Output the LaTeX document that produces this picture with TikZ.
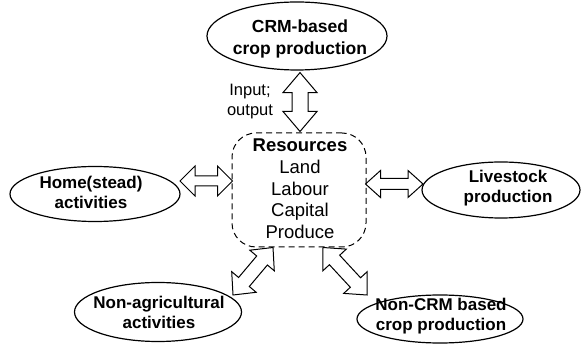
\documentclass[tikz,border=0pt]{standalone}
\usepackage{fontspec}
\setmainfont{Liberation Sans}
\usetikzlibrary{shapes.geometric,calc}

\tikzset{
  oval/.style={ellipse, draw, line width=1.2pt, inner sep=0pt},
  ovaltext/.style={font=\bfseries\fontsize{17}{20}\selectfont, align=center, inner sep=0pt},
  resbox/.style={draw, dash pattern=on 6pt off 4pt, rounded corners=24pt, line width=1pt,
                 minimum width=134pt, minimum height=114pt, inner sep=0pt},
  restext/.style={font=\fontsize{18.5}{21.7}\selectfont, align=center, inner sep=0pt},
  fat/.style={draw, line width=1pt, fill=white, line join=miter},
}

% Hollow double-headed block arrow between two named points:
% #1,#2 ends, #3 half shaft width, #4 half head width, #5 head length
\newcommand\dblfat[5]{%
  \coordinate (fa1) at ($(#1)!#5!(#2)$);
  \coordinate (fa2) at ($(#2)!#5!(#1)$);
  \path[fat] (#1) -- ($(fa1)!#4!90:(#2)$) -- ($(fa1)!#3!90:(#2)$)
    -- ($(fa2)!#3!-90:(#1)$) -- ($(fa2)!#4!-90:(#1)$) -- (#2)
    -- ($(fa2)!#4!90:(#1)$) -- ($(fa2)!#3!90:(#1)$)
    -- ($(fa1)!#3!-90:(#2)$) -- ($(fa1)!#4!-90:(#2)$) -- cycle;
}

\begin{document}
\begin{tikzpicture}[x=1pt,y=-1pt]
\useasboundingbox (0,0) rectangle (581,344);

% activity ellipses
\node[oval, minimum width=180pt, minimum height=68pt] (crm) at (297,36) {};
\node[ovaltext, font=\bfseries\fontsize{17.5}{22}\selectfont] (crmT) at (300,39) {CRM-based\\crop production};

\node[oval, minimum width=170pt, minimum height=55pt] (home) at (95,194) {};
\node[ovaltext] (homeT) at (91,192) {Home(stead)\\activities};

\node[oval, minimum width=158pt, minimum height=56pt] (live) at (501,190) {};
\node[ovaltext] (liveT) at (508,188) {Livestock\\production};

\node[oval, minimum width=167pt, minimum height=59pt] (nonag) at (158,312) {};
\node[ovaltext] (nonagT) at (159,312) {Non-agricultural\\activities};

\node[oval, minimum width=166pt, minimum height=48pt] (noncrm) at (440,319) {};
\node[ovaltext] (noncrmT) at (441,316) {Non-CRM based\\crop production};

% central resource pool
\node[resbox] (res) at (299,190) {};
\node[restext] (resT) at (300,189) {\textbf{Resources}\\Land\\Labour\\Capital\\Produce};

\node[font=\fontsize{16.5}{20}\selectfont, align=center, inner sep=0pt] (io) at (250,102) {Input;\\output};

% arrow end points on the node borders
\coordinate (vt) at ($(crm.south)+(3,2)$);
\coordinate (vb) at ($(res.north)+(1,-1)$);
\coordinate (lh1) at (180,181);
\coordinate (lh2) at ($(res.west)+(1,-9)$);
\coordinate (rh1) at ($(res.east)+(-1,-6)$);
\coordinate (rh2) at (423,184);
\coordinate (dl1) at ($(res.south)+(-26,0)$);
\coordinate (dl2) at (233,295);
\coordinate (dr1) at ($(res.south)+(24,0)$);
\coordinate (dr2) at (367,295);

% flows
\dblfat{vt}{vb}{8pt}{17pt}{20pt}
\dblfat{lh1}{lh2}{5pt}{15pt}{15pt}
\dblfat{rh1}{rh2}{5.5pt}{13.5pt}{15pt}
\dblfat{dl1}{dl2}{7pt}{16pt}{17pt}
\dblfat{dr1}{dr2}{7pt}{16pt}{17pt}
\end{tikzpicture}
\end{document}
